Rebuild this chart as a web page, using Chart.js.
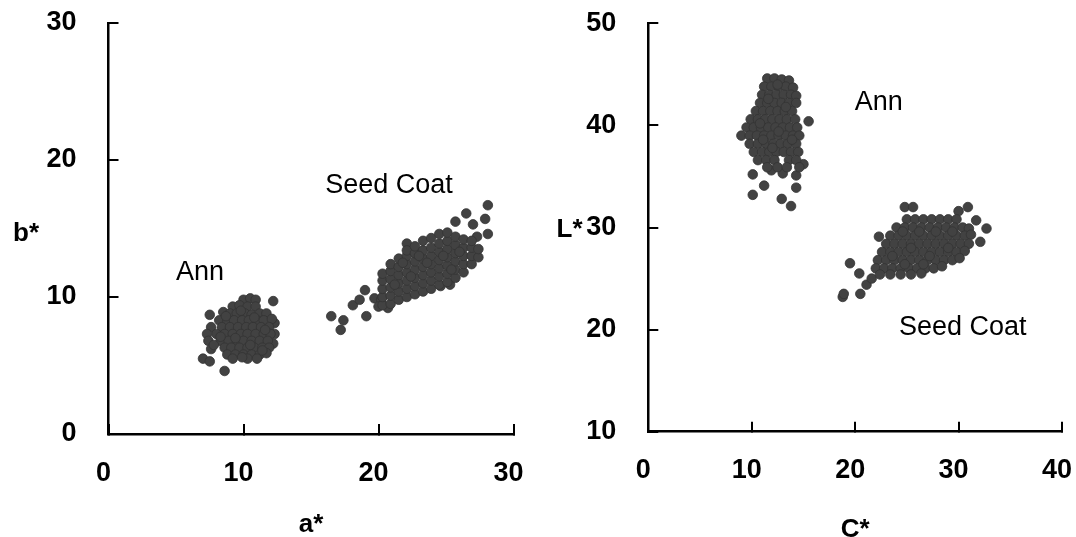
<!DOCTYPE html>
<html><head><meta charset="utf-8">
<script src="https://cdn.jsdelivr.net/npm/chart.js@4.4.1/dist/chart.umd.min.js"></script>
<style>
html,body{margin:0;padding:0;background:#fff;width:1076px;height:537px;overflow:hidden}
.box{position:absolute;top:0;width:538px;height:537px}
#l{left:0}#r{left:538px}
</style></head><body>
<div class="box" id="l"><canvas id="c1"></canvas></div>
<div class="box" id="r"><canvas id="c2"></canvas></div>
<script>
// ---- tick labels ----
const leftXTicks = [0, 10, 20, 30];
const leftYTicks = [0, 10, 20, 30];
const rightXTicks = [0, 10, 20, 30, 40];
const rightYTicks = [10, 20, 30, 40, 50];

// ---- axis titles / group labels ----
const leftTitles = { x: "a*", y: "b*" };
const rightTitles = { x: "C*", y: "L*" };
const groupNames = ["Ann", "Seed Coat"];

// ---- left panel: a* (x) vs b* (y) ----
const leftAnnPoints = [
  [12.2,9.7],[7.5,8.7],[7.0,5.5],[7.5,5.3],[8.6,4.6],[10.0,9.8],[10.5,9.9],[10.9,9.8],[12.3,8.1],[12.3,7.3],[12.2,6.6],
  [9.2,9.3],[9.7,9.4],[10.3,9.3],[10.9,9.3],
  [8.5,8.9],[9.0,8.8],[9.5,8.8],[10.1,8.8],[10.6,8.7],[11.2,8.8],[11.7,8.8],
  [8.2,8.3],[8.8,8.3],[9.3,8.3],[9.9,8.3],[10.4,8.3],[11.0,8.3],[11.5,8.3],[12.1,8.4],
  [7.6,7.8],[8.4,7.8],[9.0,7.8],[9.6,7.8],[10.2,7.8],[10.7,7.8],[11.3,7.8],[11.9,7.8],
  [7.3,7.3],[8.0,7.3],[8.6,7.3],[9.2,7.3],[9.8,7.3],[10.3,7.3],[10.9,7.3],[11.5,7.3],[12.0,7.3],
  [7.4,6.8],[8.3,6.8],[8.9,6.8],[9.5,6.8],[10.0,6.8],[10.6,6.8],[11.2,6.8],[11.8,6.8],
  [7.6,6.2],[8.6,6.3],[9.1,6.3],[9.7,6.3],[10.3,6.3],[10.8,6.3],[11.4,6.3],[11.9,6.3],
  [8.8,5.8],[9.4,5.8],[10.0,5.8],[10.6,5.8],[11.2,5.8],[11.7,5.9],
  [9.2,5.5],[10.3,5.5],[11.0,5.5],
  [8.7,8.6],[9.8,9.0],[10.8,8.5],[11.6,7.6],[9.4,7.0],[10.5,6.5],[8.3,7.1],[11.4,6.1],[9.9,5.6],[7.8,6.5]
];
const leftSeedPoints = [
  [28.1,16.7],[26.5,16.1],[27.9,15.7],[28.1,14.6],[27.0,15.3],[25.7,15.5],[22.1,13.9],[27.3,14.4],
  [16.5,8.6],[17.4,8.3],[17.2,7.6],[19.1,8.6],[18.1,9.4],[18.6,9.8],[19.0,10.5],
  [19.7,9.9],[20.2,9.8],[20.0,9.3],[20.7,9.2],[25.3,10.9],[24.6,10.8],
  [20.3,9.4],[20.3,10.0],[20.3,10.6],[20.3,11.2],[20.3,11.7],
  [20.9,9.5],[20.9,10.1],[20.9,10.7],[20.9,11.3],[20.9,11.9],[20.9,12.4],
  [21.5,9.8],[21.5,10.4],[21.5,11.0],[21.5,11.6],[21.5,12.2],[21.5,12.8],
  [22.1,10.0],[22.1,10.6],[22.1,11.2],[22.1,11.8],[22.1,12.4],[22.1,13.0],[22.1,13.4],
  [22.7,10.2],[22.7,10.8],[22.7,11.4],[22.7,12.0],[22.7,12.6],[22.7,13.2],[22.7,13.7],
  [23.3,10.4],[23.3,11.0],[23.3,11.6],[23.3,12.2],[23.3,12.8],[23.3,13.4],[23.3,14.1],
  [23.9,10.6],[23.9,11.2],[23.9,11.8],[23.9,12.4],[23.9,13.0],[23.9,13.6],[23.9,14.3],
  [24.5,10.9],[24.5,11.5],[24.5,12.1],[24.5,12.7],[24.5,13.3],[24.5,13.9],[24.5,14.6],
  [25.1,11.1],[25.1,11.7],[25.1,12.3],[25.1,12.9],[25.1,13.5],[25.1,14.1],[25.1,14.7],
  [25.7,11.4],[25.7,12.0],[25.7,12.6],[25.7,13.2],[25.7,13.8],[25.7,14.4],
  [26.3,11.8],[26.3,12.4],[26.3,13.0],[26.3,13.6],[26.3,14.2],
  [26.9,12.4],[26.9,13.0],[26.9,13.6],[26.9,14.1],
  [27.4,12.9],[27.4,13.5],
  [21.2,10.9],[22.4,11.5],[23.6,12.5],[24.8,13.0],[26.0,13.3],[23.0,13.0],[25.4,12.0],[21.8,12.5]
];

// ---- right panel: C* (x) vs L* (y) ----
const rightAnnPoints = [
  [15.5,40.4],[10.1,35.2],[11.2,34.1],[10.1,33.2],[12.9,32.8],[13.8,32.1],[14.3,33.9],[14.3,35.1],[15.0,36.2],[11.9,35.6],[13.0,35.3],
  [11.5,44.6],[12.2,44.6],[12.9,44.5],[13.6,44.4],
  [11.2,43.8],[11.9,43.8],[12.6,43.8],[13.3,43.8],[14.0,43.7],
  [11.0,43.0],[11.7,43.0],[12.4,43.0],[13.1,43.0],[13.8,43.0],[14.3,42.9],
  [10.8,42.2],[11.5,42.2],[12.2,42.2],[12.9,42.2],[13.6,42.2],[14.3,42.2],
  [10.4,41.4],[11.1,41.4],[11.8,41.4],[12.5,41.4],[13.2,41.4],[13.9,41.4],
  [9.9,40.6],[10.6,40.6],[11.3,40.6],[12.0,40.6],[12.7,40.6],[13.4,40.6],[14.2,40.6],
  [9.5,39.8],[10.2,39.8],[10.9,39.8],[11.6,39.8],[12.3,39.8],[13.0,39.8],[13.7,39.8],[14.4,39.8],
  [9.0,39.0],[9.8,39.0],[10.5,39.0],[11.2,39.0],[11.9,39.0],[12.6,39.0],[13.3,39.0],[14.0,39.0],[14.6,39.0],
  [9.8,38.2],[10.6,38.2],[11.4,38.2],[12.1,38.2],[12.8,38.2],[13.5,38.2],[14.3,38.2],
  [10.2,37.4],[11.0,37.4],[11.7,37.4],[12.4,37.4],[13.1,37.4],[13.8,37.4],[14.5,37.4],
  [10.6,36.6],[11.4,36.6],[12.2,36.6],[13.6,36.6],[14.3,36.6],
  [11.5,35.9],[12.5,35.9],[13.4,35.9],[14.6,35.9],
  [12.5,44.0],[11.6,42.6],[13.3,41.8],[10.8,40.2],[12.6,39.4],[11.1,38.6],[13.9,38.6],[12.0,37.8]
];
const rightSeedPoints = [
  [24.8,32.0],[25.6,32.0],[30.0,31.6],[30.9,32.0],[31.7,30.7],[32.7,29.9],[32.1,28.6],[22.3,29.1],
  [19.5,26.5],[20.4,25.5],[18.8,23.2],[18.9,23.5],[20.5,23.5],[21.1,24.4],[21.6,25.0],
  [25.0,30.8],[25.8,30.8],[26.6,30.8],[27.4,30.8],[28.2,30.8],[29.0,30.8],[29.8,30.8],
  [24.0,30.0],[24.8,30.0],[25.6,30.0],[26.4,30.0],[27.2,30.0],[28.0,30.0],[28.8,30.0],[29.6,30.0],[30.4,30.0],[31.0,29.9],
  [23.4,29.2],[24.2,29.2],[25.0,29.2],[25.8,29.2],[26.6,29.2],[27.4,29.2],[28.2,29.2],[29.0,29.2],[29.8,29.2],[30.6,29.2],[31.2,29.3],
  [23.0,28.4],[23.8,28.4],[24.6,28.4],[25.4,28.4],[26.2,28.4],[27.0,28.4],[27.8,28.4],[28.6,28.4],[29.4,28.4],[30.2,28.4],[31.0,28.4],
  [22.6,27.6],[23.4,27.6],[24.2,27.6],[25.0,27.6],[25.8,27.6],[26.6,27.6],[27.4,27.6],[28.2,27.6],[29.0,27.6],[29.8,27.6],[30.6,27.7],
  [22.2,26.8],[23.0,26.8],[23.8,26.8],[24.6,26.8],[25.4,26.8],[26.2,26.8],[27.0,26.8],[27.8,26.8],[28.6,26.8],[29.4,26.8],[30.1,27.0],
  [22.0,26.0],[22.8,26.0],[23.6,26.0],[24.4,26.0],[25.2,26.0],[26.0,26.0],[26.8,26.0],[27.6,26.0],[28.4,26.2],
  [22.4,25.4],[23.4,25.4],[24.4,25.4],[25.4,25.4],[26.4,25.5],
  [24.6,29.6],[26.2,29.6],[27.8,29.6],[29.4,29.6],[23.6,27.2],[25.4,28.0],[27.2,27.2],[29.0,28.0],[24.8,26.4],[26.6,26.4]
];

// ---- helpers ----
const FONT = '"Liberation Sans", Arial, sans-serif';
const toXY = arr => arr.map(p => ({ x: p[0], y: p[1] }));

const textPlugin = {
  id: 'textLabels',
  afterDraw(chart, args, opts) {
    const ctx = chart.ctx;
    ctx.save();
    ctx.fillStyle = '#000';
    ctx.textAlign = 'center';
    ctx.textBaseline = 'middle';
    (opts.items || []).forEach(it => {
      ctx.font = it.font;
      let x, y;
      if (it.data) {
        x = chart.scales.x.getPixelForValue(it.data[0]);
        y = chart.scales.y.getPixelForValue(it.data[1]);
      } else {
        const ca = chart.chartArea;
        x = chart.scales.y.left + it.dx;
        y = (ca.top + ca.bottom) / 2 + it.dy;
      }
      ctx.fillText(it.text, x, y);
    });
    ctx.restore();
  }
};

function zeroPad(s) {
  s.paddingTop = 0; s.paddingBottom = 0; s.paddingLeft = 0; s.paddingRight = 0;
}

function makeChart(id, cfg) {
  const pointStyle = {
    showLine: false, pointRadius: 4.8, pointBorderWidth: 0.8,
    backgroundColor: '#424242', borderColor: '#333333', pointHoverRadius: 4.8
  };
  const tickFont = { family: FONT, size: 27, weight: 'bold', lineHeight: 1.2 };
  const gridOpts = {
    display: true, drawOnChartArea: false, drawTicks: true,
    tickLength: -10, tickWidth: 2, tickColor: '#000', color: '#000', lineWidth: 2
  };
  return new Chart(document.getElementById(id), {
    type: 'scatter',
    data: {
      datasets: [
        Object.assign({ label: groupNames[0], data: toXY(cfg.ann) }, pointStyle),
        Object.assign({ label: groupNames[1], data: toXY(cfg.seed) }, pointStyle)
      ]
    },
    options: {
      responsive: true, maintainAspectRatio: false, animation: false,
      layout: { padding: cfg.padding },
      plugins: {
        legend: { display: false }, tooltip: { enabled: false },
        textLabels: { items: cfg.labels }
      },
      scales: {
        x: {
          type: 'linear', min: cfg.xTicks[0], max: cfg.xTicks[cfg.xTicks.length - 1],
          afterBuildTicks: s => { s.ticks = cfg.xTicks.map(v => ({ value: v })); },
          afterFit: s => { s.height = cfg.xH; zeroPad(s); },
          grid: gridOpts,
          border: { display: true, color: '#000', width: 2.5 },
          ticks: { color: '#000', font: tickFont, padding: 33, labelOffset: -5, maxRotation: 0 },
          title: { display: true, text: cfg.titles.x, color: '#000',
                   font: { family: FONT, size: 26, weight: 'bold', lineHeight: 1 },
                   padding: { top: 0, bottom: cfg.xTitlePad } }
        },
        y: {
          type: 'linear', min: cfg.yTicks[0], max: cfg.yTicks[cfg.yTicks.length - 1],
          afterBuildTicks: s => { s.ticks = cfg.yTicks.map(v => ({ value: v })); },
          afterFit: s => { s.width = cfg.yW; zeroPad(s); },
          grid: gridOpts,
          border: { display: true, color: '#000', width: 2.5 },
          ticks: { color: '#000', font: tickFont, padding: 42 },
          title: { display: false }
        }
      }
    },
    plugins: [textPlugin]
  });
}

makeChart('c1', {
  ann: leftAnnPoints, seed: leftSeedPoints,
  xTicks: leftXTicks, yTicks: leftYTicks, titles: leftTitles,
  padding: { left: 0, right: 24.5, top: 23, bottom: 0 },
  yW: 108.5, xH: 103, xTitlePad: -1,
  labels: [
    { text: groupNames[0], data: [6.78, 11.82], font: '27px ' + FONT },
    { text: groupNames[1], data: [20.78, 18.1], font: '27px ' + FONT },
    { text: leftTitles.y, dx: 26, dy: 5, font: 'bold 26px ' + FONT }
  ]
});

makeChart('c2', {
  ann: rightAnnPoints, seed: rightSeedPoints,
  xTicks: rightXTicks, yTicks: rightYTicks, titles: rightTitles,
  padding: { left: 0, right: 14, top: 23.3, bottom: 0 },
  yW: 110.3, xH: 105.3, xTitlePad: -6,
  labels: [
    { text: groupNames[0], data: [22.29, 42.27], font: '27px ' + FONT },
    { text: groupNames[1], data: [30.4, 20.17], font: '27px ' + FONT },
    { text: rightTitles.y, dx: 31.5, dy: 2.5, font: 'bold 26px ' + FONT }
  ]
});
</script>
</body></html>
